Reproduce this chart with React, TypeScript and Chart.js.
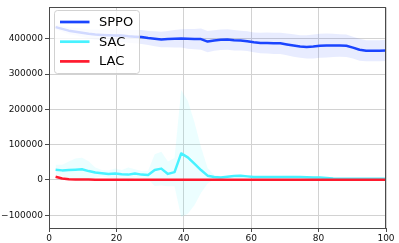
import React, { useEffect, useRef } from "react";
import { Chart, registerables } from "chart.js";

Chart.register(...registerables);

// x positions of the evaluation points
const X = [
  1.96, 3.92, 5.88, 7.84, 9.8, 11.76, 13.73, 15.69, 17.65, 19.61,
  21.57, 23.53, 25.49, 27.45, 29.41, 31.37, 33.33, 35.29, 37.25, 39.22,
  41.18, 43.14, 45.1, 47.06, 49.02, 50.98, 52.94, 54.9, 56.86, 58.82,
  60.78, 62.75, 64.71, 66.67, 68.63, 70.59, 72.55, 74.51, 76.47, 78.43,
  80.39, 82.35, 84.31, 86.27, 88.24, 90.2, 92.16, 94.12, 96.08, 98.04, 100,
];

const SPPO_MEAN = [
  433000, 428000, 423000, 420000, 417000, 414000, 412000, 411000, 410000, 409000,
  409000, 407000, 406000, 405000, 402000, 400000, 398000, 399000, 400000, 401000,
  400000, 399000, 399000, 392000, 395000, 397000, 398000, 396000, 395000, 393000,
  390000, 388000, 388000, 387000, 387000, 384000, 381000, 378000, 377000, 378000,
  380000, 381000, 381000, 381000, 380000, 375000, 369000, 366000, 366000, 366000, 367000,
];
const SPPO_STD = [
  7000, 8000, 10000, 11000, 12000, 13000, 15000, 16000, 17000, 18000,
  18000, 19000, 19000, 20000, 20000, 21000, 22000, 23000, 25000, 26000,
  28000, 29000, 30000, 30000, 29000, 29000, 29000, 29000, 28000, 28000,
  28000, 29000, 30000, 30000, 30000, 31000, 32000, 32000, 33000, 34000,
  34000, 34000, 33000, 32000, 32000, 31000, 31000, 30000, 30000, 30000, 30000,
];

const SAC_MEAN = [
  29000, 27000, 28000, 29000, 30000, 25000, 21000, 19000, 17000, 18000,
  16000, 15000, 18000, 15000, 14000, 28000, 32000, 17000, 22000, 75000,
  64000, 46000, 28000, 12000, 8000, 7000, 9000, 11000, 12000, 10000,
  8000, 8000, 8000, 8000, 8000, 8500, 8500, 8000, 7500, 7000,
  6500, 5500, 4000, 3500, 3000, 3000, 3000, 3000, 3000, 3000, 3000,
];
const SAC_STD = [
  14000, 16000, 24000, 32000, 33000, 28000, 14000, 9000, 10000, 14000,
  12000, 20000, 12000, 10000, 12000, 45000, 48000, 35000, 40000, 180000,
  160000, 118000, 65000, 22000, 6000, 4000, 3000, 3000, 3000, 3000,
  3000, 3000, 3000, 3000, 3000, 3000, 3000, 3000, 3000, 2500,
  2500, 2000, 2000, 1500, 1500, 1000, 1000, 1000, 1000, 1000, 1000,
];

const LAC_MEAN = [
  9000, 4000, 2000, 1200, 1000, 800, 700, 600, 500, 500,
  400, 400, 400, 300, 300, 300, 300, 300, 300, 200,
  200, 200, 200, 200, 200, 200, 200, 200, 200, 200,
  200, 200, 200, 200, 200, 200, 200, 200, 200, 200,
  200, 200, 200, 200, 200, 200, 200, 200, 200, 200, 200,
];
const LAC_STD = [
  2000, 1500, 1000, 800, 600, 500, 400, 400, 300, 300,
  300, 300, 300, 300, 300, 300, 300, 300, 300, 300,
  300, 300, 300, 300, 300, 300, 300, 300, 300, 300,
  300, 300, 300, 300, 300, 300, 300, 300, 300, 300,
  300, 300, 300, 300, 300, 300, 300, 300, 300, 300, 300,
];

const SERIES = ["SPPO", "SAC", "LAC"];
const X_TICKS = [0, 20, 40, 60, 80, 100];
const Y_TICKS = [-100000, 0, 100000, 200000, 300000, 400000];

const COLORS = ["#1a44ff", "#48f2ff", "#ff1a2e"];
const BANDS = ["rgba(26,68,255,0.10)", "rgba(72,242,255,0.10)", "rgba(255,26,46,0.10)"];

const FONT = "'DejaVu Sans', sans-serif";

export default function App() {
  const ref = useRef<HTMLCanvasElement | null>(null);

  useEffect(() => {
    if (!ref.current) return;
    const means = [SPPO_MEAN, SAC_MEAN, LAC_MEAN];
    const stds = [SPPO_STD, SAC_STD, LAC_STD];
    const datasets: any[] = [];
    SERIES.forEach((name, s) => {
      datasets.push({
        label: name + "_upper",
        data: X.map((x, i) => ({ x, y: means[s][i] + stds[s][i] })),
        borderWidth: 0,
        pointRadius: 0,
        fill: false,
        order: 10 + s,
      });
      datasets.push({
        label: name + "_lower",
        data: X.map((x, i) => ({ x, y: means[s][i] - stds[s][i] })),
        borderWidth: 0,
        pointRadius: 0,
        fill: "-1",
        backgroundColor: BANDS[s],
        order: 10 + s,
      });
    });
    SERIES.forEach((name, s) => {
      datasets.push({
        label: name,
        data: X.map((x, i) => ({ x, y: means[s][i] })),
        borderColor: COLORS[s],
        borderWidth: 2.5,
        pointRadius: 0,
        fill: false,
        tension: 0,
        borderJoinStyle: "round",
        order: 2 - s,
      });
    });

    const framePlugin = {
      id: "frame",
      afterDatasetsDraw(chart: any) {
        const { ctx, chartArea: a } = chart;
        ctx.save();
        ctx.strokeStyle = "#4a4a4a";
        ctx.lineWidth = 1;
        ctx.strokeRect(Math.round(a.left) + 0.5, Math.round(a.top) + 0.5, Math.round(a.right - a.left) - 1, Math.round(a.bottom - a.top));
        // legend
        const lx = 54.5, ly = 10.5, lw = 85, lh = 63;
        ctx.beginPath();
        const r = 3;
        ctx.moveTo(lx + r, ly);
        ctx.arcTo(lx + lw, ly, lx + lw, ly + lh, r);
        ctx.arcTo(lx + lw, ly + lh, lx, ly + lh, r);
        ctx.arcTo(lx, ly + lh, lx, ly, r);
        ctx.arcTo(lx, ly, lx + lw, ly, r);
        ctx.closePath();
        ctx.fillStyle = "rgba(255,255,255,0.8)";
        ctx.fill();
        ctx.strokeStyle = "rgba(204,204,204,0.9)";
        ctx.lineWidth = 1;
        ctx.stroke();
        const ys = [22, 41.7, 61.4];
        SERIES.forEach((name, s) => {
          ctx.beginPath();
          ctx.strokeStyle = COLORS[s];
          ctx.lineWidth = 2.7;
          ctx.moveTo(60, ys[s]);
          ctx.lineTo(89.5, ys[s]);
          ctx.stroke();
          ctx.fillStyle = "#000";
          ctx.font = "13px " + FONT;
          ctx.textBaseline = "middle";
          ctx.textAlign = "left";
          ctx.fillText(name, 99, ys[s] + 0.5);
        });
        ctx.restore();
      },
    };

    const chart = new Chart(ref.current, {
      type: "line",
      data: { datasets },
      options: {
        animation: false,
        responsive: false,
        maintainAspectRatio: false,
        layout: { padding: { left: 0, right: 13, top: 4, bottom: 0 } },
        plugins: { legend: { display: false }, tooltip: { enabled: false } },
        scales: {
          x: {
            type: "linear",
            min: 0,
            max: 100,
            afterBuildTicks: (scale: any) => {
              scale.ticks = X_TICKS.map((v) => ({ value: v }));
            },
            afterFit: (scale: any) => {
              scale.height = 15;
            },
            ticks: {
              font: { family: FONT, size: 9 },
              color: "#111",
              padding: 1,
              maxRotation: 0,
              autoSkip: false,
              callback: (v: any) => String(v),
            },
            grid: { color: "#d2d2d2", lineWidth: 1, tickLength: 4, tickColor: "#4a4a4a", drawTicks: true },
            border: { display: true, color: "#4a4a4a", width: 1 },
          },
          y: {
            type: "linear",
            min: -136300,
            max: 488900,
            afterBuildTicks: (scale: any) => {
              scale.ticks = Y_TICKS.map((v) => ({ value: v }));
            },
            afterFit: (scale: any) => {
              scale.width = 49;
            },
            ticks: {
              font: { family: FONT, size: 9 },
              color: "#111",
              padding: 2,
              autoSkip: false,
              callback: (v: any) => (v < 0 ? "\u2212" + String(-v) : String(v)),
            },
            grid: { color: "#d2d2d2", lineWidth: 1, tickLength: 4, tickColor: "#4a4a4a", drawTicks: true },
            border: { display: true, color: "#4a4a4a", width: 1 },
          },
        },
      },
      plugins: [framePlugin],
    });
    return () => chart.destroy();
  }, []);

  return (
    <div style={{ position: "fixed", left: 0, top: 0, width: 399, height: 243, background: "#fff" }}>
      <canvas ref={ref} width={399} height={243} style={{ display: "block", width: 399, height: 243 }} />
    </div>
  );
}
